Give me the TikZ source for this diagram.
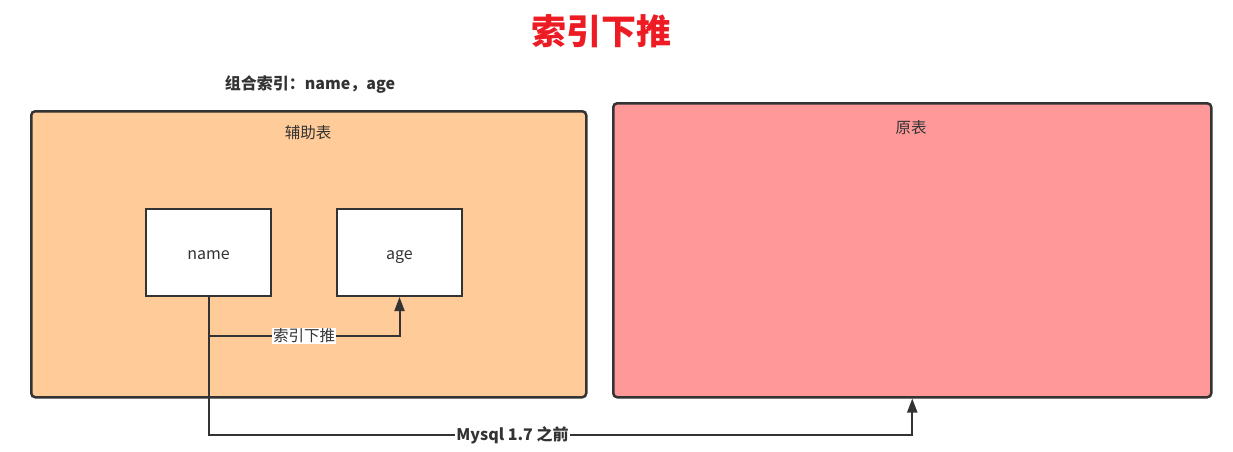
\documentclass[tikz,border=0pt]{standalone}
\usepackage{fontspec}
\setmainfont{Noto Sans CJK SC}
\usetikzlibrary{arrows.meta}
\definecolor{linegray}{HTML}{333333}
\definecolor{auxfill}{HTML}{FFCC99}
\definecolor{origfill}{HTML}{FF9999}
\definecolor{titlered}{HTML}{ED1C24}
\begin{document}
\begin{tikzpicture}[x=1pt, y=-1pt,
	table/.style = {draw=linegray, line width=2.5pt, rounded corners=4pt, anchor=north west, inner sep=0pt},
	field/.style = {draw=linegray, line width=2pt, fill=white, minimum width=125pt, minimum height=87pt, text height=14pt, text depth=0pt, font=\fontsize{16}{18}\selectfont, text=linegray},
	caption/.style = {font=\fontsize{15.5}{18}\selectfont, text=linegray},
	arr/.style = {draw=linegray, line width=2pt, -{Triangle[length=14pt,width=10pt]}},
	tag/.style = {fill=white, inner sep=1pt, text=linegray}]
	\useasboundingbox (0,0) rectangle (1233,452);
	\node[font=\fontsize{35}{38}\selectfont\bfseries, text=titlered] (title) at (601,31) {索引下推};
	\node[caption, font=\fontsize{16}{18}\selectfont\bfseries] (combo) at (310,85) {组合索引：name，age};
	\node[table, fill=auxfill, minimum width=555pt, minimum height=286pt] (aux) at (30,110) {};
	\node[table, fill=origfill, minimum width=598pt, minimum height=294pt] (orig) at (612,102) {};
	\node[caption] (auxlabel) at (308,133) {辅助表};
	\node[caption] (origlabel) at (911,128) {原表};
	\node[field] (name) at (208.5,252.5) {name};
	\node[field] (age) at (399.5,252.5) {age};
	\draw[arr] (name.south) -- ++(0,39) -| node[tag, pos=0.25, caption] {索引下推} (age.south);
	\draw[arr] (name.south) -- ++(0,138) -| node[tag, pos=0.216, caption, font=\fontsize{16}{18}\selectfont\bfseries] {Mysql 1.7 之前} (orig.south);
\end{tikzpicture}
\end{document}
